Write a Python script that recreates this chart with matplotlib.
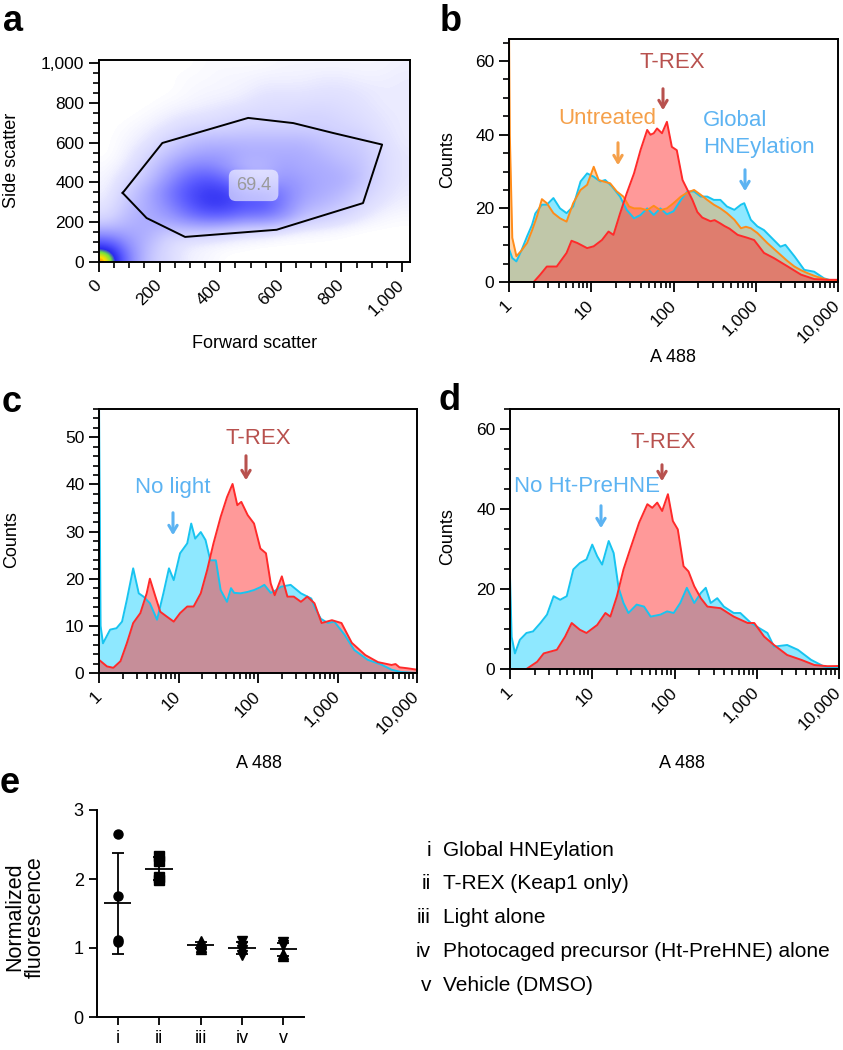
import matplotlib as mpl
import matplotlib.pyplot as plt
import numpy as np
from matplotlib.colors import LinearSegmentedColormap
from matplotlib.ticker import FixedLocator, LogLocator, MultipleLocator, NullFormatter

plt.rcParams["font.family"] = ["Liberation Sans", "DejaVu Sans"]

W, H = 843, 1050

# ---------------- data ----------------
# panel a: events per 64x64 cell (rows: side scatter from 0 up, cols: forward scatter from 0)
fsc_edges = [0, 1024]
ssc_edges = [0, 1024]
scatter_density = [
    [11, 5, 2, 1, 0.3, 0.2, 0, 0, 0, 0, 0, 0, 0, 0, 0, 0],
    [7, 4, 2.5, 1, 0.5, 0.3, 0.2, 0.1, 0, 0, 0, 0, 0, 0, 0, 0],
    [3, 3, 3, 2, 2, 2, 1.5, 1, 1, 0.5, 0.3, 0.2, 0.1, 0, 0, 0],
    [1, 2.5, 3, 3.5, 5, 6, 6, 5, 5, 4, 2, 1.5, 1, 0.5, 0.2, 0.1],
    [0.5, 2, 3, 4.5, 6.5, 8, 8, 7, 7, 5, 3, 2.5, 1.8, 1, 0.5, 0.3],
    [0.3, 1.5, 3, 5, 7, 8, 8, 6, 6, 5, 3.5, 3, 2.5, 1.5, 0.8, 0.4],
    [0.2, 1, 2, 4, 6, 7, 6, 4, 3, 4, 3.5, 3, 3, 2, 1, 0.5],
    [0.1, 0.5, 1.5, 3, 4.5, 5, 4, 2.5, 2.5, 3.5, 3, 3, 2.5, 2, 1, 0.5],
    [0, 0.3, 1, 2, 3, 3.5, 3.5, 3, 3, 3, 3, 2.5, 2, 1.8, 1, 0.5],
    [0, 0.2, 0.5, 1.2, 2, 2.5, 2.5, 2.5, 2.5, 2.5, 2.5, 2, 1.8, 1.5, 0.8, 0.4],
    [0, 0.1, 0.3, 0.6, 1, 1.2, 1.3, 1.5, 1.5, 1.5, 1.5, 1.5, 1.2, 1, 0.6, 0.4],
    [0, 0, 0.1, 0.3, 0.5, 0.6, 0.8, 1, 1, 1, 1.2, 1.2, 1, 0.8, 0.5, 0.4],
    [0, 0, 0, 0.1, 0.2, 0.3, 0.4, 0.5, 0.8, 0.8, 0.8, 0.9, 0.8, 0.6, 0.4, 0.4],
    [0, 0, 0, 0, 0.1, 0.2, 0.2, 0.3, 0.5, 0.5, 0.5, 0.6, 0.6, 0.5, 0.4, 0.4],
    [0, 0, 0, 0, 0.1, 0.1, 0.2, 0.2, 0.3, 0.3, 0.3, 0.4, 0.4, 0.3, 0.3, 0.4],
    [0, 0, 0, 0, 0, 0.1, 0.1, 0.1, 0.1, 0.2, 0.2, 0.2, 0.2, 0.2, 0.2, 0.3],
]
gate_fsc = [78, 209, 492, 641, 773, 934, 871, 586, 284, 157, 78]
gate_ssc = [347, 598, 724, 698, 648, 590, 296, 162, 126, 221, 347]
gate_pct = "69.4"

# panels b-d: (log10 A488, counts)
b_global = [(0, 9), (0.04, 6.5), (0.09, 5.6), (0.15, 8.5), (0.22, 12.4), (0.28, 15.5),
            (0.32, 18.6), (0.40, 21), (0.46, 21), (0.54, 22.8), (0.62, 20), (0.70, 18.7),
            (0.78, 20.5), (0.87, 27.3), (0.95, 29.5), (1.03, 28.6), (1.11, 27.3), (1.17, 27.7),
            (1.25, 26), (1.35, 23.2), (1.43, 19.6), (1.52, 17.3), (1.60, 18.2), (1.68, 20),
            (1.76, 18.2), (1.84, 20), (1.92, 18.4), (2.0, 19.2), (2.09, 22.3), (2.17, 24.6),
            (2.25, 24.6), (2.33, 23.2), (2.41, 23.2), (2.49, 22.3), (2.57, 22.3), (2.65, 20.5),
            (2.74, 19.6), (2.82, 21), (2.86, 21.4), (2.94, 16.9), (3.02, 15.1), (3.10, 14.1),
            (3.22, 11.4), (3.30, 9.6), (3.36, 10.1), (3.47, 7), (3.59, 3.3), (3.71, 2.8),
            (3.83, 1), (3.95, 0.2), (4.0, 0.1)]
b_untreated = [(0, 70), (0.01, 40), (0.04, 12), (0.09, 7), (0.15, 8.5), (0.22, 10.6), (0.28, 14),
               (0.34, 17.8), (0.40, 22.5), (0.46, 21.4), (0.54, 18.7), (0.62, 17.3), (0.70, 16.4),
               (0.78, 21.4), (0.87, 25), (0.95, 26.4), (1.03, 31.3), (1.09, 27.7), (1.15, 27.3),
               (1.23, 26.8), (1.31, 24.6), (1.39, 23.2), (1.46, 20.5), (1.52, 20), (1.60, 20),
               (1.68, 19.5), (1.76, 20.7), (1.84, 19.5), (1.92, 20), (2.0, 21.4), (2.09, 23.2),
               (2.17, 24.3), (2.25, 25), (2.33, 23.7), (2.41, 22.3), (2.49, 21), (2.57, 20),
               (2.65, 18.7), (2.74, 16.9), (2.82, 14.6), (2.88, 15), (2.94, 14.6), (3.02, 13.3),
               (3.14, 10.6), (3.22, 9), (3.30, 7.4), (3.38, 5.8), (3.47, 4.2), (3.55, 3.2),
               (3.63, 2.4), (3.71, 1.7), (3.79, 1.1), (3.87, 0.6), (4.0, 0.2)]
b_trex = [(0, 0), (0.30, 0), (0.38, 2), (0.46, 4.2), (0.58, 4.2), (0.70, 7.9), (0.76, 11.2),
          (0.83, 10.6), (0.95, 9.2), (1.03, 9.7), (1.13, 11.4), (1.21, 13.7), (1.27, 12.8),
          (1.35, 18.6), (1.43, 24), (1.52, 29.5), (1.60, 35.9), (1.68, 41.3), (1.72, 40),
          (1.76, 40.4), (1.80, 41.7), (1.86, 40.4), (1.92, 43.5), (1.98, 36.7), (2.04, 35.8),
          (2.11, 27.7), (2.17, 25), (2.23, 22.3), (2.29, 19), (2.35, 17.5), (2.45, 16.5),
          (2.50, 16.8), (2.57, 15.9), (2.62, 15.2), (2.68, 14.5), (2.78, 12.8), (2.90, 12),
          (2.98, 11.4), (3.10, 7.9), (3.22, 6.5), (3.39, 4.2), (3.55, 2), (3.71, 0.8),
          (3.87, 0.6), (4.0, 0.6)]

c_nolight = [(0, 58), (0.02, 10), (0.05, 6.3), (0.14, 9.2), (0.22, 9.5), (0.29, 10.9),
             (0.35, 15.5), (0.43, 22.2), (0.50, 16.9), (0.56, 16.2), (0.64, 14.8), (0.73, 11.3),
             (0.81, 16.9), (0.88, 22.2), (0.94, 19.7), (1.02, 25.4), (1.11, 27.5), (1.16, 31.7),
             (1.21, 28.5), (1.28, 29.9), (1.34, 28.2), (1.40, 23.9), (1.47, 23.9), (1.53, 17.6),
             (1.61, 15.1), (1.66, 18.0), (1.70, 17.0), (1.78, 16.9), (1.87, 17.2), (1.95, 17.6),
             (2.03, 18.2), (2.08, 18.7), (2.16, 17), (2.22, 17.5), (2.29, 18.3), (2.41, 18.7),
             (2.54, 16.9), (2.67, 15.8), (2.72, 13.7), (2.79, 11.5), (2.88, 10.6), (2.96, 10.9),
             (3.09, 8.1), (3.21, 4.9), (3.38, 2.8), (3.55, 1.8), (3.68, 0.7), (3.80, 0.2), (4.0, 0)]
c_trex = [(0, 2.8), (0.10, 1.4), (0.18, 1.1), (0.27, 2.5), (0.35, 6.3), (0.43, 10.6),
          (0.52, 12.7), (0.60, 16.9), (0.64, 20), (0.71, 16.2), (0.77, 13), (0.85, 12),
          (0.94, 10.9), (1.02, 12.7), (1.11, 14.1), (1.19, 14.1), (1.28, 16.9), (1.36, 21.8),
          (1.44, 27.5), (1.53, 33.1), (1.61, 37.3), (1.68, 40.1), (1.74, 35.6), (1.79, 36.3),
          (1.87, 33.5), (1.95, 31.7), (2.03, 26.4), (2.10, 25.4), (2.16, 19), (2.21, 16.5),
          (2.30, 20.5), (2.37, 16.2), (2.45, 16.2), (2.54, 15.1), (2.62, 16.2), (2.71, 14.8),
          (2.80, 10.6), (2.93, 11.2), (3.05, 10.6), (3.18, 6.4), (3.35, 3.8), (3.51, 2.3),
          (3.68, 1.7), (3.73, 1.9), (3.78, 1.2), (3.88, 1.0), (4.0, 0.7)]

d_noht = [(0, 23), (0.02, 8), (0.06, 3.9), (0.12, 7.3), (0.20, 9), (0.28, 9.4), (0.37, 11.5),
          (0.45, 13.6), (0.53, 18.2), (0.61, 17.3), (0.69, 18.2), (0.77, 24.9), (0.85, 26.5),
          (0.93, 27.4), (1.0, 31.1), (1.06, 28.2), (1.12, 26.1), (1.20, 32), (1.26, 29),
          (1.32, 20.3), (1.38, 16.5), (1.44, 14), (1.54, 16.1), (1.63, 15.6), (1.71, 13.1),
          (1.83, 13.6), (1.91, 14.4), (1.99, 14), (2.07, 16.5), (2.15, 20.3), (2.24, 16.5),
          (2.32, 19), (2.38, 20.3), (2.44, 16.5), (2.52, 17.7), (2.60, 15.6), (2.72, 14),
          (2.80, 14), (2.93, 11.5), (3.0, 10.6), (3.13, 9), (3.21, 5.6), (3.37, 6), (3.50, 4.8),
          (3.66, 2.3), (3.82, 0.6), (4.0, 0.2)]
d_trex = [(0, 0), (0.20, 0), (0.33, 1.8), (0.41, 3.9), (0.57, 4.8), (0.67, 8.1), (0.75, 11.5),
          (0.85, 9.8), (0.93, 9), (1.06, 11), (1.16, 14), (1.22, 13.1), (1.30, 18.2), (1.38, 24.9),
          (1.46, 29.9), (1.57, 36.6), (1.67, 41.2), (1.73, 40.3), (1.79, 41.6), (1.85, 39.5),
          (1.92, 43.7), (1.98, 37), (2.04, 34.9), (2.11, 25.7), (2.17, 24.4), (2.24, 20.7),
          (2.32, 17.7), (2.40, 15.6), (2.56, 15.2), (2.72, 13.1), (2.89, 11.5), (2.97, 11.5),
          (3.09, 8.1), (3.21, 6), (3.37, 3.5), (3.54, 2.3), (3.70, 1), (3.86, 0.7), (4.0, 0.75)]

# panel e
e_groups = ["i", "ii", "iii", "iv", "v"]
e_values = [
    [2.65, 1.75, 1.12, 1.08],
    [2.33, 2.26, 2.03, 1.98],
    [1.10, 1.06, 1.02, 0.99],
    [1.10, 1.03, 0.97, 0.90],
    [1.08, 1.05, 0.92, 0.89],
]
e_markers = [["o"] * 4, ["s"] * 4, ["^"] * 4, ["v"] * 4, ["v", "v", "^", "^"]]
e_legend = ["Global HNEylation", "T-REX (Keap1 only)", "Light alone",
            "Photocaged precursor (Ht-PreHNE) alone", "Vehicle (DMSO)"]

# colours
RED_LINE, RED_FILL = "#ff2a2a", "#ff3535"
BLUE_LINE, BLUE_FILL = "#18c4f0", "#1ed2ff"
ORANGE_LINE, ORANGE_FILL = "#ff8c1a", "#ffa040"
TREX_TXT, BLUE_TXT, ORANGE_TXT = "#b8514e", "#5cb3f2", "#f5a04a"


def rect(l, t, r, b):
    return [l / W, 1 - b / H, (r - l) / W, (b - t) / H]


def ftext(x, y, s, **kw):
    return fig.text(x / W, 1 - y / H, s, **kw)


def farrow(x, y0, y1, color):
    fig.add_artist(mpl.patches.FancyArrowPatch(
        (x / W, 1 - y0 / H), (x / W, 1 - y1 / H), transform=fig.transFigure,
        arrowstyle="->,head_length=5,head_width=3", color=color, lw=2.2))


def style_box(ax):
    for s in ax.spines.values():
        s.set_linewidth(1.4)
    ax.tick_params(which="major", length=7, width=1.3, labelsize=12.5, direction="out")
    ax.tick_params(which="minor", length=4.5, width=1.2, direction="out")


def rotate_xlabels(ax, labels):
    ax.set_xticklabels(labels, rotation=45, ha="right", va="center",
                       rotation_mode="anchor")
    ax.tick_params(axis="x", which="major", pad=8)


def log_axis(ax, ymax, ystep, yminor):
    ax.set_xscale("log")
    ax.set_xlim(1, 10000)
    ax.set_ylim(0, ymax)
    ax.xaxis.set_major_locator(FixedLocator([1, 10, 100, 1000, 10000]))
    ax.xaxis.set_minor_locator(LogLocator(base=10, subs=np.arange(2, 10)))
    ax.xaxis.set_minor_formatter(NullFormatter())
    ax.yaxis.set_major_locator(MultipleLocator(ystep))
    ax.yaxis.set_minor_locator(MultipleLocator(yminor))
    style_box(ax)
    rotate_xlabels(ax, ["1", "10", "100", "1,000", "10,000"])


def draw_hist(ax, pts, line, fill, alpha):
    lx, y = np.array(pts, dtype=float).T
    x = 10 ** lx
    ax.fill_between(x, y, color=fill, alpha=alpha, lw=0)
    ax.plot(x, y, color=line, lw=1.4)


fig = plt.figure(figsize=(W / 100, H / 100), dpi=100)

######################
# a: forward / side scatter with gate
######################
ax = fig.add_axes(rect(99, 60, 410, 262))
flow_cmap = LinearSegmentedColormap.from_list(
    "flow", [(0, "#ffffff"), (0.05, "#e4e4ff"), (0.6, "#5a5aff"),
             (0.78, "#2a2af0"), (0.86, "#70e040"), (0.94, "#ffe000"), (1, "#ff2000")])
ax.imshow(np.array(scatter_density), origin="lower", extent=fsc_edges + ssc_edges,
          cmap=flow_cmap, vmin=0, vmax=11, interpolation="bicubic", aspect="auto")
ax.plot(gate_fsc, gate_ssc, color="black", lw=1.4)
ax.text(510, 385, gate_pct, color="#9a9a9a", fontsize=13, ha="center", va="center",
        bbox=dict(boxstyle="round,pad=0.4", fc="white", ec="none", alpha=0.6))
ax.set_xlim(0, 1026)
ax.set_ylim(0, 1015)
ax.xaxis.set_major_locator(FixedLocator([0, 200, 400, 600, 800, 1000]))
ax.yaxis.set_major_locator(FixedLocator([0, 200, 400, 600, 800, 1000]))
ax.xaxis.set_minor_locator(MultipleLocator(50))
ax.yaxis.set_minor_locator(MultipleLocator(50))
ax.set_yticklabels(["0", "200", "400", "600", "800", "1,000"])
style_box(ax)
rotate_xlabels(ax, ["0", "200", "400", "600", "800", "1,000"])
ftext(12, 160, "Side scatter", fontsize=13, rotation=90, ha="center", va="center")
ftext(255, 343, "Forward scatter", fontsize=13, ha="center", va="center")

######################
# b: untreated / global / T-REX
######################
ax = fig.add_axes(rect(509, 39, 838, 282))
draw_hist(ax, b_global, BLUE_LINE, BLUE_FILL, 0.5)
draw_hist(ax, b_untreated, ORANGE_LINE, ORANGE_FILL, 0.45)
draw_hist(ax, b_trex, RED_LINE, RED_FILL, 0.5)
log_axis(ax, 66, 20, 5)
ftext(448, 160, "Counts", fontsize=13, rotation=90, ha="center", va="center")
ftext(673, 357, "A 488", fontsize=13, ha="center", va="center")
ftext(672, 62, "T-REX", fontsize=16, color=TREX_TXT, ha="center", va="center")
farrow(663, 86, 113, TREX_TXT)
ftext(607, 118, "Untreated", fontsize=16, color=ORANGE_TXT, ha="center", va="center")
farrow(618, 140, 168, ORANGE_TXT)
ftext(703, 121, "Global", fontsize=16, color=BLUE_TXT, ha="left", va="center")
ftext(703, 147, "HNEylation", fontsize=16, color=BLUE_TXT, ha="left", va="center")
farrow(745, 167, 194, BLUE_TXT)

######################
# c: no light vs T-REX
######################
ax = fig.add_axes(rect(99, 409, 417, 673))
draw_hist(ax, c_nolight, BLUE_LINE, BLUE_FILL, 0.5)
draw_hist(ax, c_trex, RED_LINE, RED_FILL, 0.5)
log_axis(ax, 56, 10, 2)
ftext(12, 540, "Counts", fontsize=13, rotation=90, ha="center", va="center")
ftext(259, 763, "A 488", fontsize=13, ha="center", va="center")
ftext(258, 438, "T-REX", fontsize=16, color=TREX_TXT, ha="center", va="center")
farrow(246, 453, 483, TREX_TXT)
ftext(173, 487, "No light", fontsize=16, color=BLUE_TXT, ha="center", va="center")
farrow(173, 510, 538, BLUE_TXT)

######################
# d: no Ht-PreHNE vs T-REX
######################
ax = fig.add_axes(rect(510, 409, 839, 669))
draw_hist(ax, d_noht, BLUE_LINE, BLUE_FILL, 0.5)
draw_hist(ax, d_trex, RED_LINE, RED_FILL, 0.5)
log_axis(ax, 65, 20, 5)
ftext(448, 537, "Counts", fontsize=13, rotation=90, ha="center", va="center")
ftext(682, 763, "A 488", fontsize=13, ha="center", va="center")
ftext(663, 442, "T-REX", fontsize=16, color=TREX_TXT, ha="center", va="center")
farrow(662, 462, 484, TREX_TXT)
ftext(587, 487, "No Ht-PreHNE", fontsize=16, color=BLUE_TXT, ha="center", va="center")
farrow(601, 503, 531, BLUE_TXT)

######################
# e: normalized fluorescence
######################
ax = fig.add_axes(rect(97, 810, 304, 1017))
for k, (vals, marks) in enumerate(zip(e_values, e_markers)):
    pos = k + 1
    vals = np.array(vals)
    m, sd = vals.mean(), vals.std(ddof=1)
    for v, mk in zip(vals, marks):
        ax.plot(pos, v, marker=mk, color="black", ms=6.5, ls="none")
    ax.hlines(m, pos - 0.33, pos + 0.33, color="black", lw=1.3)
    ax.errorbar(pos, m, yerr=sd, color="black", lw=1.3, capsize=4.5, capthick=1.3)
ax.set_xlim(0.5, 5.5)
ax.set_ylim(0, 3)
ax.set_xticks(range(1, 6))
ax.set_xticklabels(e_groups)
ax.set_yticks([0, 1, 2, 3])
for s in ["top", "right"]:
    ax.spines[s].set_visible(False)
for s in ["left", "bottom"]:
    ax.spines[s].set_linewidth(1.4)
ax.tick_params(length=6, width=1.3, labelsize=13)
ftext(25, 917, "Normalized\nfluorescence", fontsize=15.5, rotation=90, ha="center",
      va="center", linespacing=1.0)
for k, (g, lab) in enumerate(zip(e_groups, e_legend)):
    y = 850 + k * 33.8
    ftext(431, y, g, fontsize=15, ha="right", va="center")
    ftext(443, y, lab, fontsize=15, ha="left", va="center")

# panel letters
for lab, x, y in [("a", 3, 31), ("b", 440, 31), ("c", 2, 412), ("d", 438, 410), ("e", 0, 793)]:
    ftext(x, y, lab, fontsize=26, fontweight="bold", ha="left", va="baseline")

fig.savefig("out.png", dpi=100)
